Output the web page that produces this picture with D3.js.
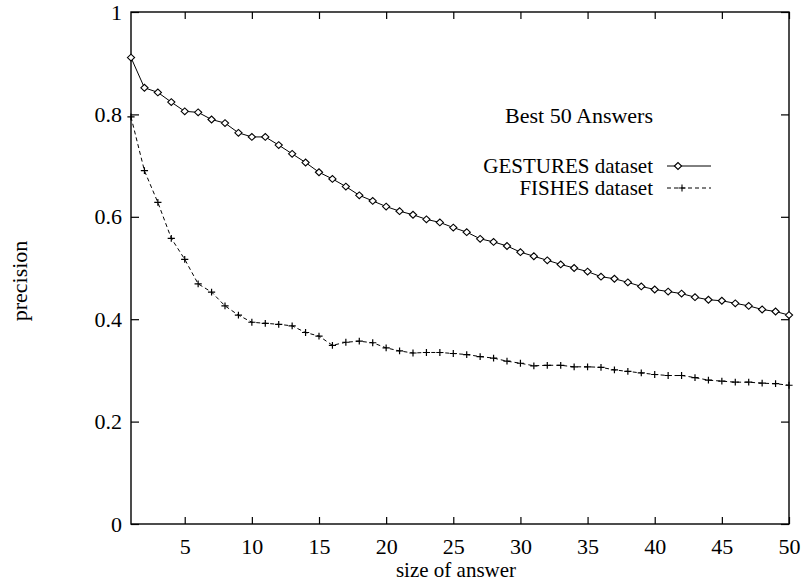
<!DOCTYPE html>
<html>
<head>
<meta charset="utf-8">
<script src="https://cdn.jsdelivr.net/npm/d3@7"></script>
<style>
  body { margin: 0; background: #fff; }
  svg { display: block; }
  text { font-family: "Liberation Serif", "Times New Roman", serif; font-size: 22px; fill: #000; }
  .key text { font-size: 21px; }
  .xlabel { font-size: 21px; }
</style>
</head>
<body>
<script>
const w = 803
const h = 582

// answer sizes 1..50
const sizes = d3.range(1, 51)

// precision
const gestures = [0.911, 0.852, 0.843, 0.824, 0.806, 0.804, 0.790, 0.783, 0.764, 0.756,
                  0.756, 0.740, 0.723, 0.706, 0.687, 0.674, 0.659, 0.642, 0.631, 0.620,
                  0.611, 0.604, 0.595, 0.589, 0.579, 0.570, 0.557, 0.551, 0.543, 0.531,
                  0.523, 0.515, 0.507, 0.500, 0.493, 0.483, 0.479, 0.472, 0.464, 0.458,
                  0.454, 0.450, 0.443, 0.438, 0.436, 0.431, 0.426, 0.419, 0.415, 0.408]

const fishes = [0.795, 0.690, 0.628, 0.558, 0.517, 0.469, 0.453, 0.426, 0.408, 0.394,
                0.392, 0.390, 0.387, 0.374, 0.367, 0.349, 0.355, 0.357, 0.354, 0.344,
                0.338, 0.334, 0.335, 0.335, 0.333, 0.331, 0.327, 0.324, 0.318, 0.314,
                0.309, 0.310, 0.310, 0.307, 0.307, 0.306, 0.301, 0.298, 0.295, 0.292,
                0.290, 0.290, 0.286, 0.281, 0.279, 0.277, 0.277, 0.275, 0.274, 0.271]

const xTicks = [5, 10, 15, 20, 25, 30, 35, 40, 45, 50]
const yTicks = [0, 0.2, 0.4, 0.6, 0.8, 1]

const title = "Best 50 Answers"
const seriesNames = ["GESTURES dataset", "FISHES dataset"]

const plotL = 131, plotR = 789, plotT = 12, plotB = 524

const svg = d3.select("body")
              .append("svg")
              .attr("width", w)
              .attr("height", h)

const x = d3.scaleLinear().domain([1, 50]).range([plotL, plotR])
const y = d3.scaleLinear().domain([0, 1]).range([plotB, plotT])

// axes, ticks pointing inwards like gnuplot
svg.append("g")
   .attr("transform", `translate(0, ${plotB})`)
   .call(d3.axisBottom(x).tickValues(xTicks).tickSize(-7).tickSizeOuter(0).tickPadding(14))
svg.append("g")
   .attr("transform", `translate(0, ${plotT})`)
   .call(d3.axisTop(x).tickValues(xTicks).tickSize(-7).tickSizeOuter(0).tickFormat(""))
svg.append("g")
   .attr("transform", `translate(${plotL}, 0)`)
   .call(d3.axisLeft(y).tickValues(yTicks).tickSize(-8).tickSizeOuter(0).tickPadding(9).tickFormat(d3.format("~g")))
svg.append("g")
   .attr("transform", `translate(${plotR}, 0)`)
   .call(d3.axisRight(y).tickValues(yTicks).tickSize(-8).tickSizeOuter(0).tickFormat(""))

svg.selectAll(".domain").remove()
svg.selectAll(".tick line").attr("stroke", "#000").attr("stroke-width", 1.2)
svg.selectAll(".tick text").attr("font-family", null).attr("font-size", null)

// frame
svg.append("rect")
   .attr("x", plotL).attr("y", plotT)
   .attr("width", plotR - plotL).attr("height", plotB - plotT)
   .attr("fill", "none").attr("stroke", "#000").attr("stroke-width", 1.4)

// axis labels
svg.append("text")
   .attr("class", "xlabel")
   .attr("x", (plotL + plotR) / 2 - 4).attr("y", 577)
   .attr("text-anchor", "middle")
   .text("size of answer")

svg.append("text")
   .attr("transform", "translate(27, 281) rotate(-90)")
   .attr("text-anchor", "middle")
   .text("precision")

const line = d3.line().x((d, i) => x(sizes[i])).y(d => y(d))

// diamond and plus markers
const diamond = (cx, cy) => `M${cx - 3.6},${cy}L${cx},${cy - 3.4}L${cx + 3.6},${cy}L${cx},${cy + 3.4}Z`
const plus = (cx, cy) => `M${cx - 3.6},${cy}H${cx + 3.6}M${cx},${cy - 3.4}V${cy + 3.4}`

svg.append("path")
   .datum(gestures)
   .attr("d", line)
   .attr("fill", "none").attr("stroke", "#000").attr("stroke-width", 1)

svg.append("path")
   .datum(fishes)
   .attr("d", line)
   .attr("fill", "none").attr("stroke", "#000").attr("stroke-width", 1)
   .attr("stroke-dasharray", "4,3")

svg.append("g").selectAll("path")
   .data(gestures)
   .enter()
   .append("path")
   .attr("d", (d, i) => diamond(x(sizes[i]), y(d)))
   .attr("fill", "#fff").attr("stroke", "#000").attr("stroke-width", 1.1)

svg.append("g").selectAll("path")
   .data(fishes)
   .enter()
   .append("path")
   .attr("d", (d, i) => plus(x(sizes[i]), y(d)))
   .attr("fill", "none").attr("stroke", "#000").attr("stroke-width", 1.2)

// key
svg.append("text")
   .attr("x", 653).attr("y", 123)
   .attr("text-anchor", "end")
   .text(title)

const rows = svg.append("g")
                .attr("class", "key")
                .selectAll("g")
                .data(seriesNames)
                .enter()
                .append("g")
                .attr("transform", (d, i) => `translate(0, ${166 + i * 22})`)

rows.append("text")
    .attr("x", 653).attr("dy", "0.32em")
    .attr("text-anchor", "end")
    .text(d => d)

rows.append("line")
    .attr("x1", 667).attr("x2", 711)
    .attr("stroke", "#000").attr("stroke-width", 1)
    .attr("stroke-dasharray", (d, i) => i === 0 ? null : "4,3")

rows.append("path")
    .attr("d", (d, i) => i === 0 ? diamond(678, 0) : plus(682, 0))
    .attr("fill", (d, i) => i === 0 ? "#fff" : "none")
    .attr("stroke", "#000").attr("stroke-width", 1.1)
</script>
</body>
</html>
